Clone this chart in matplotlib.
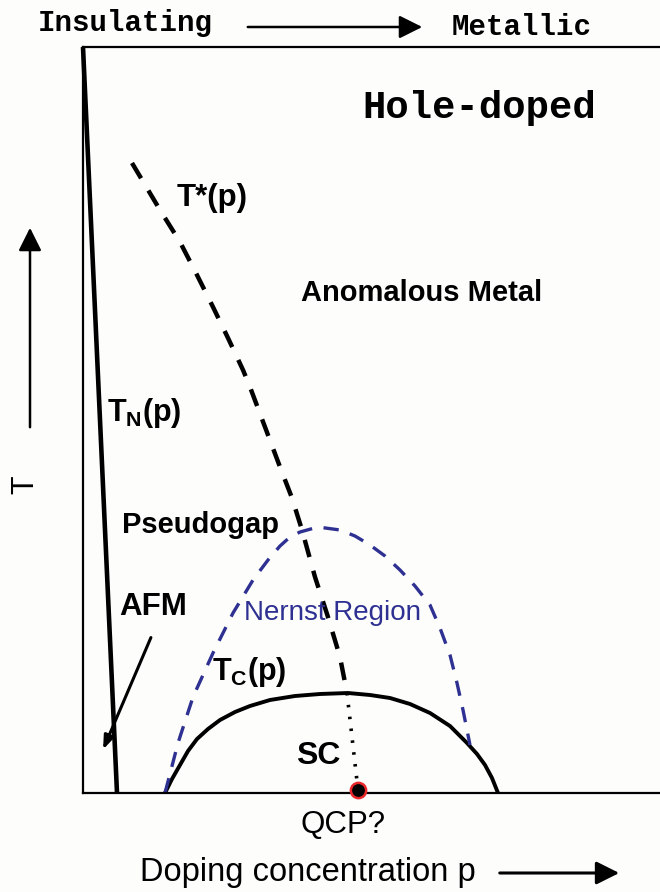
import matplotlib.pyplot as plt
from matplotlib.patches import FancyArrowPatch

# schematic phase diagram, coordinates (x right, T up)
tn_x = [83, 117]
tn_y = [746, 0]

tstar_x = [132, 160, 180, 197, 213, 228, 243, 250, 268, 280, 292, 302, 315, 328, 340, 347]
tstar_y = [630, 583, 551, 518, 486, 455, 423, 406, 358, 326, 295, 263, 216, 176, 136, 100]

qcp_line_x = [347, 358]
qcp_line_y = [100, 3]

tc_x = [165, 172, 180, 188, 197, 208, 220, 235, 250, 270, 295, 320, 348, 370, 390, 410, 430, 450, 467, 477, 485, 492, 498]
tc_y = [0, 14, 28, 42, 54, 64, 73, 81, 87, 93, 97, 99, 100, 98, 95, 89, 80, 67, 50, 39, 28, 15, 0]

nernst_x = [165, 178, 193, 213, 233, 253, 268, 280, 290, 300, 318, 340, 355, 370, 385, 400, 415, 430, 440, 450, 457, 463, 470]
nernst_y = [0, 50, 96, 140, 180, 213, 233, 247, 256, 261, 266, 263, 257, 248, 237, 223, 207, 188, 165, 138, 110, 83, 48]

qcp = (358, 3)

BLUE = '#2e3192'

fig = plt.figure(figsize=(6.6, 8.92), dpi=100)
fig.patch.set_facecolor('#fdfdfc')
ax = fig.add_axes([83 / 660, 99 / 892, 600 / 660, 746 / 892])
ax.set_facecolor('#fdfdfc')
ax.set_xlim(83, 683)
ax.set_ylim(0, 746)
ax.set_xticks([])
ax.set_yticks([])
ax.spines['right'].set_visible(False)
for s in ['left', 'top', 'bottom']:
    ax.spines[s].set_linewidth(1.6)

ax.plot(tn_x, tn_y, color='black', lw=3.3, solid_capstyle='butt', clip_on=False)
ax.plot(tstar_x, tstar_y, color='black', lw=3.2, dashes=(4, 3.2))
ax.plot(qcp_line_x, qcp_line_y, color='black', lw=2.6, dashes=(0.7, 2.6))
ax.plot(tc_x, tc_y, color='black', lw=2.8)
ax.plot(nernst_x, nernst_y, color=BLUE, lw=2.4, dashes=(4.6, 3.5))
ax.plot(*qcp, 'o', ms=11, mfc='black', mec='#e8282b', mew=1.8, clip_on=False, zorder=5)

bold = dict(fontfamily='Liberation Sans', fontweight='bold', color='black')
ax.text(177, 595, 'T*(p)', fontsize=22.5, ha='left', va='center', **bold)
ax.text(301, 500, 'Anomalous Metal', fontsize=21, ha='left', va='center', **bold)
ax.text(107, 380, r'T$_\mathregular{N}$(p)', fontsize=22, ha='left', va='center', **bold)
ax.text(122, 268, 'Pseudogap', fontsize=21, ha='left', va='center', **bold)
ax.text(119, 186, 'AFM', fontsize=22.5, ha='left', va='center', **bold)
ax.text(212, 121, r'T$_\mathregular{C}$(p)', fontsize=22, ha='left', va='center', **bold)
ax.text(296, 37, 'SC', fontsize=23, ha='left', va='center', **bold)
ax.text(244, 180, 'Nernst Region', fontsize=20, ha='left', va='center',
        fontfamily='Liberation Sans', color=BLUE)
ax.text(362, 685, 'Hole-doped', fontsize=28, ha='left', va='center',
        fontfamily='Liberation Mono', fontweight='bold')

# AFM pointer
ax.annotate('', xy=(102, 41), xytext=(152, 158),
            arrowprops=dict(arrowstyle='-|>,head_length=0.8,head_width=0.3', lw=2.2, color='black'))

# labels outside the frame
fig.text(38 / 660, 1 - 23 / 892, 'Insulating', fontsize=21, ha='left', va='center',
         fontfamily='Liberation Mono', fontweight='bold')
fig.text(452 / 660, 1 - 27 / 892, 'Metallic', fontsize=21, ha='left', va='center',
         fontfamily='Liberation Mono', fontweight='bold')
fig.text(300 / 660, 1 - 825 / 892, 'QCP?', fontsize=22.5, ha='left', va='center',
         fontfamily='Liberation Sans')
fig.text(140 / 660, 1 - 873 / 892, 'Doping concentration p', fontsize=23.5, ha='left', va='center',
         fontfamily='Liberation Sans')
fig.text(25 / 660, 1 - 485 / 892, 'T', fontsize=22, ha='center', va='center', rotation=90,
         fontfamily='Liberation Sans')

for (x0, y0), (x1, y1), w in [((245, 27), (425, 27), 1.8),
                              ((497, 873), (622, 873), 2.2),
                              ((30, 430), (30, 225), 1.8)]:
    fig.add_artist(FancyArrowPatch(
        (x0 / 660, 1 - y0 / 892), (x1 / 660, 1 - y1 / 892), transform=fig.transFigure,
        arrowstyle='-|>,head_length=7,head_width=3.5', lw=w, color='black', mutation_scale=2))

fig.savefig('out.png', dpi=100, facecolor=fig.get_facecolor())
